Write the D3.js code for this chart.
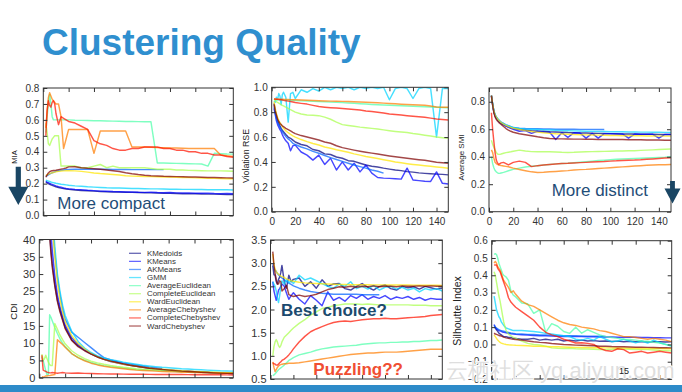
<!DOCTYPE html>
<html><head><meta charset="utf-8">
<script src="https://cdn.jsdelivr.net/npm/d3@7"></script>
<style>body{margin:0;background:#fff}svg{display:block}text{font-family:"Liberation Sans",Arial,sans-serif}</style>
</head><body><svg id="c" width="682" height="392"></svg>
<script>
// number of clusters (shared x values)
const K = [2,3,4,5,6,7,8,9,10,12,14,16,18,20,25,30,35,40,45,50,55,60,65,70,75,80,85,90,95,100,105,110,115,120,125,130,135,140,145,150];
const METHODS = ["KMedoids","KMeans","AKMeans","GMM","AverageEuclidean","CompleteEuclidean","WardEuclidean","AverageChebyshev","CompleteChebyshev","WardChebyshev"];
const N11 = [null,null,null,null,null,null,null,null,null,null,null];

const MIA = [
 [0.21,0.205,0.2,0.196,0.192,0.189,0.186,0.183,0.18,0.176,0.172,0.169,0.166,0.164,0.16,0.157,0.155,0.153,0.151,0.149,0.148,0.147,0.146,0.145,0.144,0.143,0.142,0.141,0.14,0.139,0.138,0.137,0.136,0.136,0.135,0.134,0.134,0.133,0.132,0.132],
 [0.215,0.21,0.206,0.202,0.198,0.195,0.192,0.189,0.186,0.181,0.177,0.173,0.17,0.168,0.164,0.161,0.158,0.156,0.153,0.152,0.15,0.149,0.147,0.148,0.146,0.145,0.146,0.144,0.143,0.144,0.142,0.141,0.142,0.14,0.139,0.14,0.138,0.137,0.138,0.136],
 [0.245,0.25,0.255,0.26,0.264,0.268,0.271,0.274,0.277,0.281,0.284,0.286,0.288,0.289,0.29,0.29,0.291,0.29,0.29,0.29,0.289,0.289,0.289,0.288,0.288,0.288,0.288,0.288,0.288].concat(N11),
 [0.222,0.219,0.216,0.213,0.21,0.208,0.206,0.204,0.202,0.199,0.196,0.194,0.192,0.19,0.186,0.183,0.18,0.178,0.176,0.174,0.173,0.172,0.171,0.17,0.169,0.168,0.167,0.167,0.166,0.165,0.165,0.164,0.164,0.163,0.163,0.162,0.162,0.161,0.161,0.16],
 [0.52,0.62,0.7,0.76,0.7,0.62,0.6,0.6,0.6,0.6,0.6,0.6,0.6,0.6,0.598,0.597,0.596,0.595,0.594,0.593,0.592,0.591,0.59,0.59,0.589,0.588,0.588,0.33,0.329,0.328,0.327,0.326,0.325,0.324,0.323,0.31,0.39,0.388,0.386,0.385],
 [0.58,0.52,0.45,0.44,0.46,0.48,0.49,0.5,0.5,0.5,0.31,0.31,0.31,0.31,0.31,0.3,0.3,0.31,0.32,0.3,0.31,0.3,0.3,0.3,0.3,0.3,0.295,0.29,0.29,0.29,0.285,0.285,0.283,0.282,0.281,0.28,0.28,0.28,0.279,0.278],
 [0.25,0.255,0.26,0.263,0.266,0.268,0.27,0.272,0.274,0.277,0.279,0.28,0.281,0.281,0.28,0.277,0.272,0.267,0.263,0.26,0.257,0.254,0.25,0.247,0.246,0.245,0.244,0.243,0.242,0.241,0.24,0.239,0.238,0.236,0.235,0.234,0.233,0.232,0.231,0.23],
 [0.55,0.65,0.74,0.77,0.75,0.73,0.72,0.71,0.7,0.7,0.62,0.42,0.48,0.54,0.54,0.54,0.54,0.39,0.53,0.53,0.53,0.53,0.53,0.43,0.43,0.43,0.428,0.426,0.425,0.424,0.423,0.422,0.421,0.42,0.42,0.42,0.42,0.38,0.375,0.37],
 [0.5,0.66,0.72,0.69,0.68,0.71,0.72,0.7,0.64,0.57,0.62,0.61,0.6,0.59,0.58,0.56,0.54,0.47,0.45,0.44,0.42,0.41,0.41,0.42,0.42,0.43,0.43,0.43,0.42,0.42,0.41,0.41,0.4,0.4,0.39,0.39,0.38,0.38,0.37,0.365],
 [0.24,0.255,0.267,0.275,0.279,0.281,0.282,0.283,0.284,0.288,0.291,0.294,0.298,0.305,0.306,0.3,0.296,0.293,0.29,0.286,0.281,0.276,0.268,0.262,0.257,0.253,0.25,0.248,0.246,0.245,0.244,0.243,0.242,0.241,0.24,0.239,0.238,0.237,0.236,0.235]
];

const RSE = [
 [0.87,0.81,0.77,0.73,0.71,0.69,0.67,0.655,0.643,0.62,0.6,0.59,0.575,0.56,0.54,0.53,0.5,0.49,0.465,0.46,0.44,0.43,0.41,0.405,0.39,0.375,0.365,0.36,0.35,0.342,0.335,0.33,0.322,0.318,0.312,0.308,0.305,0.302,0.3,0.296],
 [0.83,0.78,0.73,0.7,0.68,0.66,0.645,0.62,0.6,0.57,0.55,0.49,0.53,0.535,0.48,0.455,0.415,0.455,0.38,0.43,0.335,0.4,0.335,0.39,0.32,0.375,0.31,0.275,0.27,0.268,0.265,0.262,0.35,0.255,0.25,0.245,0.243,0.32,0.228,0.222],
 [0.845,0.79,0.75,0.72,0.7,0.68,0.66,0.645,0.63,0.605,0.585,0.57,0.55,0.54,0.52,0.505,0.485,0.47,0.452,0.435,0.42,0.405,0.39,0.375,0.362,0.35,0.335,0.325,0.31].concat(N11),
 [0.89,0.88,0.92,0.9,0.95,0.93,0.86,0.94,0.96,0.92,0.72,0.95,0.96,0.91,0.98,0.96,0.99,0.97,1.0,0.98,1.0,0.99,1.0,0.98,1.0,0.99,1.0,0.99,1.0,0.9,0.99,1.0,0.99,0.91,0.99,1.0,0.99,0.6,0.99,0.99],
 [0.9,0.9,0.9,0.9,0.9,0.9,0.9,0.9,0.9,0.898,0.897,0.895,0.894,0.893,0.891,0.889,0.887,0.885,0.883,0.881,0.879,0.877,0.874,0.871,0.868,0.865,0.862,0.859,0.857,0.855,0.853,0.851,0.849,0.847,0.845,0.843,0.841,0.839,0.837,0.835],
 [0.905,0.895,0.885,0.878,0.872,0.866,0.86,0.855,0.85,0.84,0.83,0.82,0.81,0.8,0.785,0.777,0.775,0.772,0.76,0.743,0.72,0.7,0.693,0.687,0.68,0.675,0.67,0.665,0.658,0.651,0.645,0.64,0.636,0.628,0.622,0.615,0.608,0.6,0.595,0.59],
 [0.885,0.83,0.79,0.76,0.735,0.715,0.7,0.685,0.67,0.65,0.635,0.622,0.61,0.6,0.58,0.563,0.548,0.536,0.52,0.51,0.498,0.488,0.478,0.465,0.455,0.444,0.435,0.427,0.418,0.41,0.4,0.393,0.386,0.38,0.375,0.37,0.365,0.36,0.355,0.35],
 [0.906,0.906,0.906,0.906,0.905,0.905,0.905,0.905,0.904,0.903,0.902,0.901,0.9,0.9,0.898,0.896,0.894,0.892,0.89,0.889,0.888,0.887,0.886,0.884,0.882,0.88,0.878,0.876,0.873,0.87,0.867,0.864,0.862,0.86,0.857,0.855,0.85,0.842,0.84,0.84],
 [0.906,0.905,0.904,0.903,0.902,0.9,0.9,0.898,0.895,0.892,0.889,0.886,0.882,0.878,0.871,0.865,0.855,0.845,0.84,0.836,0.833,0.83,0.826,0.822,0.818,0.81,0.805,0.8,0.793,0.786,0.781,0.777,0.772,0.767,0.763,0.759,0.752,0.745,0.741,0.737],
 [0.863,0.81,0.777,0.745,0.725,0.71,0.7,0.69,0.684,0.67,0.66,0.649,0.638,0.628,0.612,0.6,0.588,0.576,0.56,0.55,0.53,0.515,0.505,0.495,0.486,0.478,0.471,0.464,0.456,0.448,0.441,0.435,0.429,0.424,0.418,0.413,0.405,0.397,0.393,0.389]
];

const SMI = [
 [0.844,0.78,0.73,0.7,0.685,0.672,0.662,0.652,0.645,0.635,0.625,0.617,0.61,0.605,0.598,0.594,0.59,0.587,0.585,0.582,0.58,0.578,0.576,0.575,0.573,0.572,0.571,0.57,0.569,0.568,0.567,0.566,0.565,0.565,0.564,0.563,0.563,0.562,0.562,0.561],
 [0.84,0.775,0.725,0.695,0.68,0.668,0.658,0.65,0.642,0.632,0.622,0.614,0.606,0.6,0.585,0.59,0.57,0.585,0.58,0.578,0.525,0.575,0.54,0.575,0.572,0.535,0.57,0.535,0.568,0.567,0.566,0.566,0.535,0.565,0.564,0.564,0.563,0.535,0.562,0.562],
 [0.845,0.785,0.735,0.705,0.69,0.678,0.668,0.66,0.652,0.642,0.632,0.625,0.618,0.612,0.607,0.605,0.604,0.603,0.602,0.601,0.6,0.6,0.6,0.6,0.599,0.599,0.599,0.598,0.598].concat(N11),
 [0.845,0.785,0.735,0.705,0.69,0.677,0.667,0.658,0.65,0.64,0.632,0.625,0.618,0.613,0.606,0.602,0.6,0.598,0.596,0.594,0.592,0.59,0.589,0.588,0.587,0.586,0.585,0.584,0.583,0.582,0.582,0.581,0.58,0.58,0.579,0.579,0.578,0.578,0.577,0.577],
 [0.4,0.35,0.32,0.3,0.29,0.283,0.279,0.28,0.282,0.286,0.292,0.298,0.303,0.308,0.317,0.325,0.331,0.335,0.34,0.344,0.348,0.35,0.352,0.356,0.36,0.364,0.368,0.372,0.375,0.378,0.381,0.383,0.385,0.387,0.389,0.391,0.393,0.395,0.397,0.4],
 [0.52,0.49,0.47,0.45,0.43,0.42,0.417,0.418,0.42,0.425,0.43,0.433,0.436,0.44,0.448,0.441,0.437,0.436,0.436,0.436,0.434,0.432,0.431,0.432,0.434,0.436,0.437,0.438,0.439,0.44,0.441,0.442,0.443,0.444,0.446,0.448,0.45,0.452,0.454,0.456],
 [0.844,0.78,0.732,0.703,0.688,0.675,0.665,0.656,0.648,0.637,0.628,0.62,0.613,0.607,0.598,0.59,0.584,0.579,0.574,0.57,0.567,0.565,0.563,0.561,0.56,0.559,0.558,0.557,0.556,0.555,0.554,0.553,0.553,0.552,0.552,0.551,0.551,0.55,0.55,0.55],
 [0.45,0.43,0.39,0.36,0.35,0.344,0.34,0.338,0.336,0.333,0.33,0.327,0.322,0.317,0.307,0.298,0.29,0.285,0.287,0.29,0.293,0.296,0.299,0.303,0.306,0.308,0.311,0.314,0.317,0.32,0.323,0.326,0.329,0.332,0.335,0.338,0.34,0.341,0.342,0.344],
 [0.72,0.6,0.51,0.43,0.376,0.355,0.344,0.35,0.355,0.359,0.35,0.34,0.35,0.359,0.368,0.359,0.328,0.335,0.34,0.344,0.347,0.35,0.352,0.355,0.357,0.359,0.361,0.363,0.365,0.368,0.37,0.373,0.375,0.376,0.378,0.381,0.384,0.387,0.39,0.393],
 [0.844,0.775,0.72,0.69,0.672,0.66,0.65,0.642,0.635,0.62,0.605,0.594,0.585,0.578,0.567,0.56,0.553,0.545,0.538,0.533,0.531,0.53,0.529,0.528,0.528,0.527,0.527,0.526,0.526,0.526,0.525,0.525,0.524,0.523,0.523,0.522,0.522,0.521,0.52,0.52]
];

const CDI = [
 [150,110,90,75,64,55,42,37,33,27,22.5,19.5,17,14.5,11,9.2,8,7,6.1,5.4,4.9,4.5,4.0,3.7,3.4,3.1,2.8,2.6,2.4,2.2,2.05,1.9,1.8,1.7,1.6,1.5,1.4,1.3,1.25,1.2],
 [150,110,90,75,65,57,48,42,37,29.5,24,20.5,17.8,15.2,11.6,9.6,8.1,6.9,6.0,5.3,4.7,4.3,3.9,3.6,3.3,3.0,2.8,2.6,2.4,2.25,2.1,1.95,1.85,1.75,1.65,1.55,1.45,1.35,1.28,1.2],
 [160,120,100,85,74,66,60,52,46,36,29,24,20,17,13.2,11.7,10.2,8.7,7.2,5.8,5.2,4.7,4.3,4.0,3.7,3.4,3.1,2.9,2.7].concat(N11),
 [160,125,105,90,78,68,60,54,48,38,30,25,21,18,13.5,10.5,8.6,7.3,6.3,5.7,5.2,4.9,4.5,4.2,3.9,3.6,3.4,3.2,3.0,2.9,2.75,2.6,2.5,2.4,2.3,2.2,2.1,2.0,1.95,1.9],
 [6.0,5.0,3.5,2.0,0.8,1.0,18.2,17.5,16.5,14.5,12.8,11.2,10,9,7,5.8,5.0,4.4,3.9,3.5,3.2,3.0,2.8,2.6,2.4,2.3,2.2,2.1,2.0,1.9,1.82,1.75,1.68,1.6,1.55,1.5,1.45,1.4,1.35,1.3],
 [6.8,5.0,5.5,6.5,5.5,4.5,3.8,3.5,3.5,15.7,14,12.3,11,9.8,7.8,6.5,5.5,4.8,4.3,3.9,3.55,3.25,3.0,2.8,2.6,2.45,2.35,2.25,2.15,2.05,1.95,1.88,1.8,1.73,1.67,1.6,1.55,1.5,1.45,1.4],
 [160,125,100,85,72,62,54,48,44,35,27.5,22.5,19,16.2,12.2,9.9,8.3,7.0,6.0,5.3,4.75,4.3,3.9,3.6,3.3,3.0,2.8,2.6,2.45,2.3,2.15,2.0,1.9,1.8,1.7,1.6,1.5,1.42,1.35,1.3],
 [0.3,0.2,0.3,0.5,0.5,0.6,0.6,0.7,0.8,0.9,11.0,10.3,9.6,8.8,7.0,5.8,4.9,4.2,3.7,3.3,3.0,2.8,2.6,2.4,2.2,2.1,2.0,1.9,1.8,1.75,1.68,1.6,1.55,1.5,1.45,1.4,1.35,1.3,1.27,1.25],
 [6.5,2.2,2.0,1.8,1.6,1.5,1.4,1.4,1.5,1.4,1.3,1.4,1.5,1.4,1.3,1.35,1.25,1.2,1.15,1.1,1.08,1.05,1.03,1.0,0.98,0.97,0.96,0.95,0.94,0.93,0.92,0.9,0.89,0.88,0.87,0.86,0.85,0.83,0.82,0.8],
 [150,110,88,72,62,53,41,36,32,26.5,22,19,16.6,14.2,10.8,9.0,7.8,6.8,6.0,5.3,4.8,4.4,4.0,3.6,3.3,3.0,2.75,2.55,2.35,2.2,2.05,1.9,1.8,1.7,1.6,1.5,1.4,1.32,1.25,1.2]
];

const DBI = [
 [2.95,2.75,2.74,2.6,2.55,2.65,2.7,2.8,2.95,2.6,2.46,2.74,2.6,2.65,2.68,2.5,2.6,2.46,2.64,2.5,2.55,2.56,2.45,2.42,2.5,2.56,2.48,2.42,2.5,2.53,2.45,2.42,2.5,2.47,2.49,2.44,2.5,2.47,2.44,2.46],
 [2.6,2.4,2.3,2.2,2.3,2.42,2.45,2.5,2.55,2.5,2.35,2.22,2.3,2.36,2.22,2.12,2.3,2.2,2.08,2.38,2.2,2.26,2.18,2.3,2.24,2.32,2.22,2.28,2.24,2.3,2.22,2.27,2.24,2.28,2.22,2.26,2.2,2.24,2.22,2.22],
 [3.0,2.9,2.85,2.82,2.78,2.75,2.72,2.7,2.68,2.64,2.6,2.57,2.54,2.51,2.46,2.42,2.39,2.37,2.35,2.34,2.33,2.33,2.33,2.33,2.33,2.32,2.32,2.32,2.32].concat(N11),
 [2.6,2.55,2.5,2.4,2.25,2.15,2.3,2.5,2.62,2.55,2.65,2.58,2.62,2.56,2.74,2.64,2.68,2.62,2.56,2.5,2.46,2.55,2.5,2.6,2.45,2.5,2.44,2.52,2.42,2.48,2.5,2.44,2.48,2.42,2.46,2.38,2.45,2.42,2.45,2.4],
 [0.57,0.59,0.61,0.64,0.67,0.7,0.72,0.74,0.76,0.8,0.85,0.9,0.93,0.96,1.02,1.05,1.08,1.12,1.15,1.17,1.19,1.2,1.21,1.22,1.23,1.25,1.26,1.27,1.28,1.28,1.29,1.29,1.3,1.3,1.31,1.31,1.32,1.33,1.33,1.34],
 [1.0,1.2,1.3,1.35,1.3,1.22,1.18,1.22,1.3,1.4,1.45,1.5,1.55,1.6,1.7,1.78,1.88,1.95,2.02,2.05,2.08,2.1,2.12,2.12,2.12,2.11,2.12,2.11,2.1,2.1,2.1,2.1,2.1,2.1,2.09,2.09,2.09,2.08,2.08,2.08],
 [3.2,2.97,2.88,2.82,2.78,2.76,2.74,2.72,2.71,2.69,2.66,2.64,2.62,2.61,2.59,2.575,2.565,2.56,2.555,2.55,2.545,2.54,2.538,2.536,2.535,2.534,2.533,2.532,2.531,2.53,2.53,2.529,2.528,2.527,2.526,2.525,2.524,2.523,2.522,2.52],
 [0.87,0.75,0.66,0.7,0.75,0.78,0.8,0.81,0.82,0.83,0.83,0.84,0.84,0.84,0.85,0.87,0.89,0.91,0.93,0.95,0.97,0.99,1.01,1.03,1.04,1.05,1.06,1.06,1.07,1.08,1.08,1.08,1.09,1.1,1.11,1.12,1.13,1.14,1.14,1.14],
 [0.85,0.83,0.82,0.8,0.8,0.82,0.85,0.87,0.9,0.93,0.97,1.02,1.08,1.15,1.3,1.42,1.52,1.58,1.63,1.68,1.72,1.74,1.75,1.74,1.76,1.78,1.79,1.8,1.8,1.81,1.8,1.8,1.81,1.82,1.83,1.84,1.85,1.87,1.88,1.89],
 [3.25,2.95,2.78,2.65,2.55,2.55,2.62,2.6,2.4,2.45,2.52,2.32,2.3,2.28,2.31,2.28,2.3,2.33,2.38,2.43,2.46,2.49,2.48,2.5,2.48,2.5,2.49,2.51,2.49,2.5,2.5,2.49,2.51,2.5,2.5,2.51,2.5,2.51,2.5,2.5]
];

const SIL = [
 [0.1,0.095,0.085,0.075,0.065,0.06,0.055,0.05,0.045,0.045,0.04,0.04,0.035,0.035,0.03,0.03,0.035,0.025,0.03,0.025,0.03,0.02,0.025,0.02,0.025,0.02,0.022,0.018,0.02,0.017,0.019,0.016,0.018,0.015,0.017,0.014,0.016,0.015,0.014,0.015],
 [0.115,0.1,0.09,0.085,0.08,0.078,0.075,0.072,0.07,0.068,0.065,0.062,0.06,0.058,0.056,0.054,0.052,0.05,0.05,0.048,0.047,0.046,0.046,0.045,0.045,0.044,0.044,0.043,0.043,0.043,0.042,0.042,0.041,0.041,0.04,0.04,0.039,0.039,0.038,0.038],
 [0.11,0.1,0.095,0.09,0.085,0.082,0.08,0.078,0.076,0.072,0.069,0.066,0.064,0.062,0.06,0.058,0.057,0.055,0.054,0.053,0.052,0.051,0.05,0.05,0.049,0.048,0.048,0.047,0.046].concat(N11),
 [0.28,0.24,0.2,0.18,0.16,0.15,0.13,0.12,0.11,0.095,0.09,0.085,0.08,0.08,0.08,0.078,0.075,0.07,0.064,0.06,0.055,0.05,0.045,0.03,0.025,0.035,0.025,0.045,0.03,0.016,0.02,0.03,0.02,0.01,0.02,0.008,0.025,0.01,0.0,-0.01],
 [0.52,0.525,0.52,0.5,0.47,0.45,0.43,0.41,0.4,0.39,0.37,0.31,0.285,0.275,0.24,0.235,0.18,0.2,0.07,0.12,0.105,0.075,0.064,0.1,0.065,0.085,0.07,0.055,0.045,0.04,0.035,0.03,0.028,0.025,0.02,0.018,0.012,0.008,0.0,-0.01],
 [0.42,0.4,0.36,0.32,0.28,0.25,0.21,0.17,0.13,0.08,0.06,0.05,0.04,0.035,0.02,0.006,0.0,-0.003,-0.01,-0.02,-0.022,-0.023,-0.022,-0.025,-0.027,-0.027,-0.028,-0.03,-0.03,-0.028,-0.025,-0.027,-0.028,-0.03,-0.03,-0.03,-0.032,-0.035,-0.036,-0.038],
 [0.055,0.045,0.035,0.025,0.018,0.012,0.008,0.005,0.003,0.0,-0.002,-0.003,-0.004,-0.005,-0.006,-0.008,-0.01,-0.011,-0.012,-0.013,-0.014,-0.015,-0.016,-0.017,-0.018,-0.018,-0.019,-0.019,-0.02,-0.02,-0.021,-0.021,-0.022,-0.022,-0.023,-0.023,-0.024,-0.024,-0.025,-0.025],
 [0.47,0.48,0.47,0.45,0.44,0.43,0.41,0.39,0.37,0.35,0.33,0.3,0.31,0.29,0.25,0.23,0.22,0.2,0.18,0.16,0.14,0.125,0.115,0.11,0.1,0.095,0.09,0.08,0.075,0.065,0.055,0.045,0.045,0.04,0.035,0.03,0.035,0.03,0.025,0.016],
 [0.46,0.46,0.46,0.44,0.43,0.42,0.4,0.38,0.36,0.32,0.27,0.245,0.23,0.215,0.19,0.165,0.14,0.1,0.07,0.055,0.045,0.03,0.02,0.008,0.01,0.006,0.0,-0.023,-0.035,-0.04,-0.025,-0.03,-0.05,-0.045,-0.04,-0.05,-0.045,-0.04,-0.045,-0.05],
 [0.065,0.06,0.058,0.055,0.052,0.05,0.048,0.045,0.042,0.038,0.035,0.032,0.03,0.028,0.025,0.02,0.015,0.012,0.01,0.005,0.003,0.0,-0.002,-0.004,-0.005,-0.006,-0.008,-0.01,-0.01,-0.012,-0.013,-0.014,-0.015,-0.016,-0.016,-0.017,-0.018,-0.019,-0.019,-0.02]
];

const X_TICKS = [0,20,40,60,80,100,120,140];
const MIA_TICKS = [0,0.1,0.2,0.3,0.4,0.5,0.6,0.7,0.8];
const RSE_TICKS = [0,0.2,0.4,0.6,0.8,1.0];
const SMI_TICKS = [0,0.2,0.4,0.6,0.8];
const CDI_TICKS = [0,5,10,15,20,25,30,35,40];
const DBI_TICKS = [0.5,1.0,1.5,2.0,2.5,3.0,3.5];
const SIL_TICKS = [-0.2,-0.1,0,0.1,0.2,0.3,0.4,0.5,0.6];

// jet colormap sampled at 10 points
const COLORS = ["#000080","#0000ff","#0063ff","#00d4ff","#4dffa9","#a9ff4d","#ffe600","#ff7d00","#ff1400","#800000"];

const svg = d3.select("#c");
svg.append("rect").attr("width",682).attr("height",392).attr("fill","#fff");

// title
svg.append("text").attr("x",42).attr("y",55).attr("font-size",37).attr("font-weight","bold")
  .attr("fill","#2f8fcf").text("Clustering Quality");

const f1 = d3.format(".1f");
const PANELS = [
 {id:"mia", data:MIA, l:43.3, r:233.3, t:88, b:215.5, dom:[0,0.8], ticks:MIA_TICKS, fmt:f1, fs:10,
  lab:"MIA", lx:14, ly:157, lfs:7.5, xlab:false},
 {id:"rse", data:RSE, l:271.7, r:448.3, t:87.3, b:211.7, dom:[0,1], ticks:RSE_TICKS, fmt:f1, fs:10,
  lab:"Violation RSE", lx:245.5, ly:156, lfs:8.8, xlab:true},
 {id:"smi", data:SMI, l:489, r:671, t:88, b:211.7, dom:[0,0.9], ticks:SMI_TICKS, fmt:f1, fs:10,
  lab:"Average SMI", lx:461.5, ly:157.5, lfs:8, xlab:true},
 {id:"cdi", data:CDI, l:39.3, r:233.3, t:239.5, b:377.7, dom:[0,40], ticks:CDI_TICKS, fmt:d3.format("d"), fs:11,
  lab:"CDI", lx:13.3, ly:311.5, lfs:9.5, xlab:false},
 {id:"dbi", data:DBI, l:270.5, r:442.3, t:240, b:379, dom:[0.5,3.5], ticks:DBI_TICKS, fmt:f1, fs:11,
  lab:"DBI", lx:243.5, ly:309, lfs:10, xlab:false, clipLab:true},
 {id:"sil", data:SIL, l:491.7, r:671.7, t:240.7, b:379, dom:[-0.2,0.6], ticks:SIL_TICKS, fmt:f1, fs:10,
  lab:"Silhoutte Index", lx:457.3, ly:311, lfs:10.5, xlab:false}
];

const defs = svg.append("defs");

PANELS.forEach(p => {
  const x = d3.scaleLinear().domain([0,150]).range([p.l,p.r]);
  const y = d3.scaleLinear().domain(p.dom).range([p.b,p.t]);
  defs.append("clipPath").attr("id","clip-"+p.id).append("rect")
    .attr("x",p.l).attr("y",p.t).attr("width",p.r-p.l).attr("height",p.b-p.t);
  const g = svg.append("g");
  const line = d3.line().defined(d => d[1] != null).x(d => x(d[0])).y(d => y(d[1]));
  const lg = g.append("g").attr("clip-path","url(#clip-"+p.id+")");
  p.data.forEach((vals,i) => {
    lg.append("path").datum(K.map((k,j) => [k, vals[j]]))
      .attr("d",line).attr("fill","none").attr("stroke",COLORS[i])
      .attr("stroke-width",1.45).attr("stroke-opacity",0.72).attr("stroke-linejoin","round");
  });
  const ax = (axis, tr) => {
    const a = g.append("g").attr("transform",tr).call(axis);
    a.select(".domain").remove();
    a.selectAll("line").attr("stroke","#333");
    a.selectAll("text").attr("fill","#333").attr("font-size",p.fs).attr("font-family","Liberation Sans, Arial, sans-serif");
    return a;
  };
  ax(d3.axisBottom(x).tickValues(X_TICKS).tickSize(-4).tickPadding(6).tickFormat(p.xlab ? d3.format("d") : () => ""), `translate(0,${p.b})`);
  ax(d3.axisTop(x).tickValues(X_TICKS).tickSize(-4).tickFormat(() => ""), `translate(0,${p.t})`);
  ax(d3.axisLeft(y).tickValues(p.ticks).tickSize(-4).tickPadding(4).tickFormat(p.fmt), `translate(${p.l},0)`);
  ax(d3.axisRight(y).tickValues(p.ticks).tickSize(-4).tickFormat(() => ""), `translate(${p.r},0)`);
  g.append("rect").attr("x",p.l).attr("y",p.t).attr("width",p.r-p.l).attr("height",p.b-p.t)
    .attr("fill","none").attr("stroke","#333").attr("stroke-width",1);
  const lt = svg.append("text").attr("transform",`translate(${p.lx},${p.ly}) rotate(-90)`)
    .attr("text-anchor","middle").attr("dominant-baseline","central")
    .attr("font-size",p.lfs).attr("fill","#222").text(p.lab);
  if (p.clipLab) {
    defs.append("clipPath").attr("id","clip-lab").append("rect").attr("x",240.5).attr("y",280).attr("width",30).attr("height",60);
    lt.attr("clip-path","url(#clip-lab)");
  }
});

// legend in CDI panel
const leg = svg.append("g");
METHODS.forEach((m,i) => {
  const yy = 253.3 + i*8.08;
  leg.append("line").attr("x1",129).attr("x2",141).attr("y1",yy).attr("y2",yy)
    .attr("stroke",COLORS[i]).attr("stroke-width",1.3).attr("stroke-opacity",0.6);
  leg.append("text").attr("x",147).attr("y",yy).attr("dominant-baseline","central")
    .attr("font-size",7.9).attr("fill","#333").text(m);
});

// annotations
const navy = "#1b4a6e";
svg.append("text").attr("x",57.3).attr("y",209.3).attr("font-size",17).attr("fill","#1f4d78").text("More compact");
svg.append("text").attr("x",551.7).attr("y",195.7).attr("font-size",17).attr("fill","#1f4d78").text("More distinct");
svg.append("text").attr("x",281).attr("y",315.7).attr("font-size",17).attr("font-weight","bold").attr("fill",navy).text("Best choice?");
svg.append("text").attr("x",313.3).attr("y",375).attr("font-size",17).attr("font-weight","bold").attr("fill","#f04e32").text("Puzzling??");

// arrows
const arrow = (cx, top, headTop, tip, hw, sw) => {
  svg.append("path").attr("fill","#1a4664")
    .attr("d",`M${cx-sw},${top}L${cx+sw},${top}L${cx+sw},${headTop}L${cx+hw},${headTop}L${cx},${tip}L${cx-hw},${headTop}L${cx-sw},${headTop}Z`);
};
arrow(18.3, 166.7, 186.7, 205, 10, 2.6);
arrow(672.5, 181, 188.5, 203.5, 8, 2.4);

// footer bar, watermark, page number
svg.append("rect").attr("x",0).attr("y",385).attr("width",682).attr("height",7).attr("fill","#2e8bc9");
svg.append("text").attr("x",446).attr("y",378).attr("font-size",22).attr("fill","#d6d6d6").attr("fill-opacity",0.8)
  .attr("stroke","#fff").attr("stroke-width",1.5).attr("paint-order","stroke")
  .attr("font-family","Noto Sans CJK SC, Liberation Sans, sans-serif").text("云栖社区 yq.aliyun.com");
svg.append("text").attr("x",619).attr("y",374).attr("font-size",9).attr("fill","#222").text("15");
</script></body></html>
